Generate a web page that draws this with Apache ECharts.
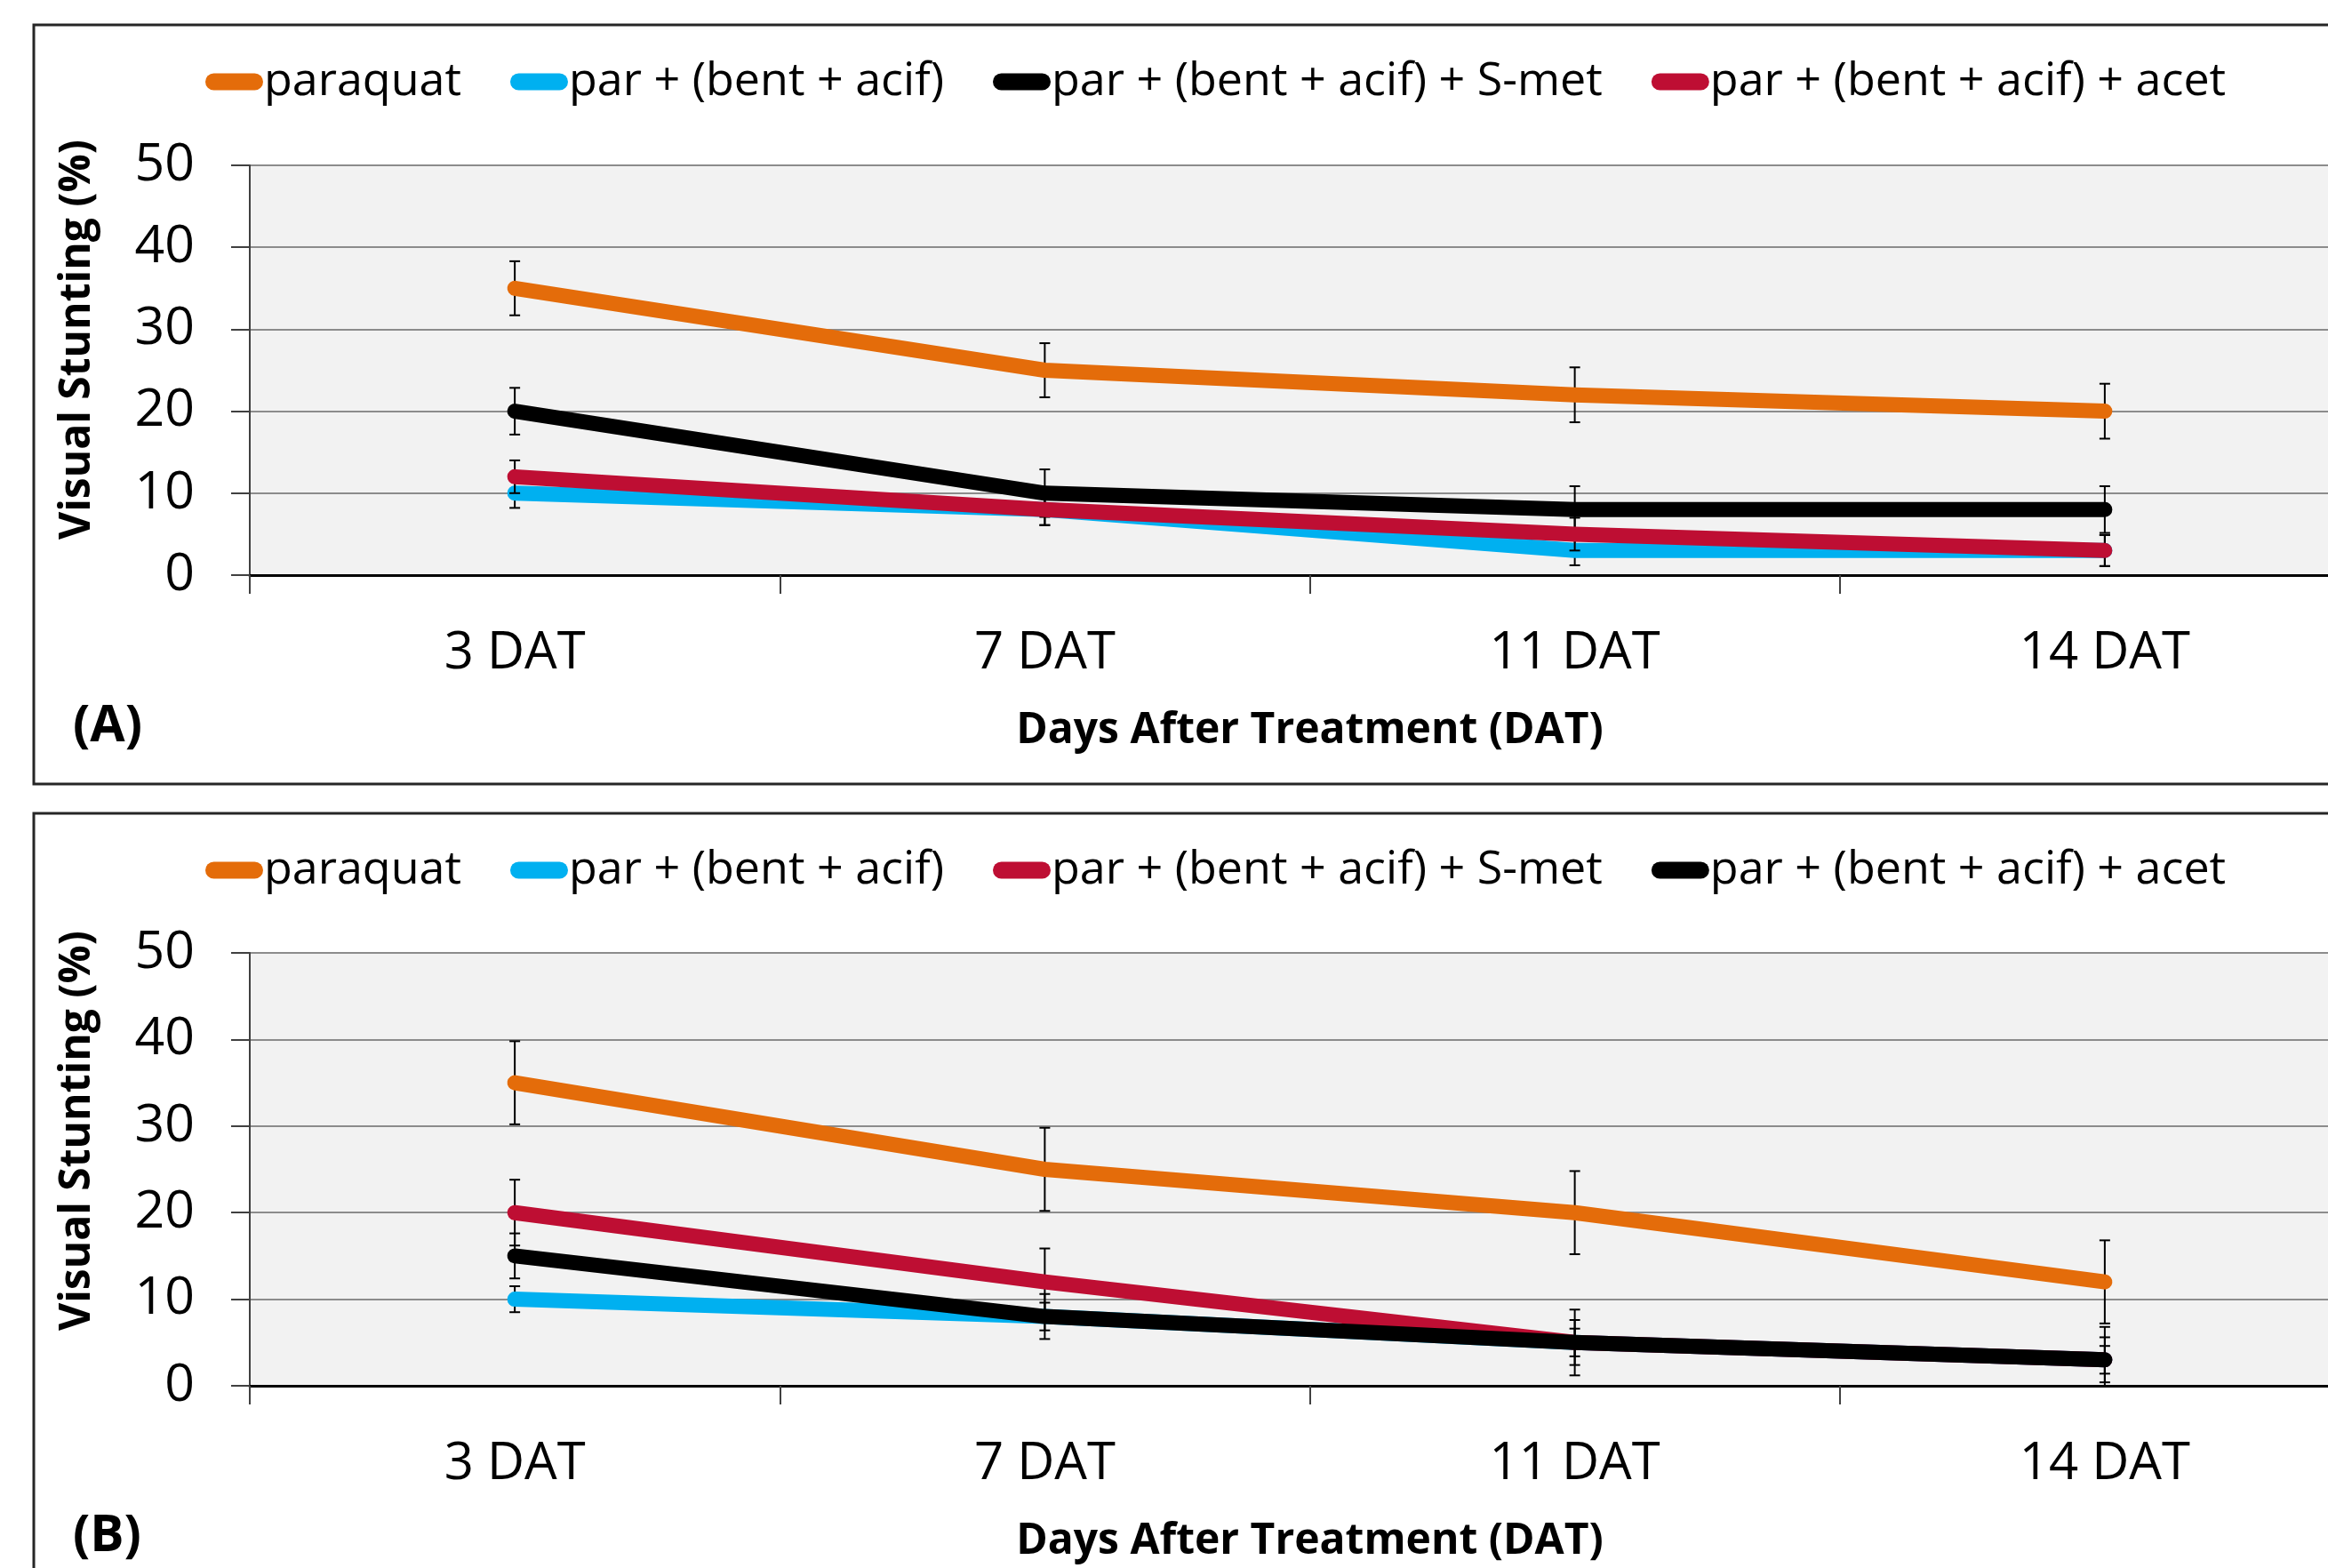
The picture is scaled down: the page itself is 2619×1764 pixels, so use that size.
<!DOCTYPE html>
<html><head><meta charset="utf-8">
<script src="https://cdn.jsdelivr.net/npm/echarts@6/dist/echarts.min.js"></script>
<style>html,body{margin:0;padding:0;background:#fff}#c{width:2619px;height:1764px}</style>
</head><body><div id="c"></div>
<script>
// ---------- data ----------
const categories = ['3 DAT', '7 DAT', '11 DAT', '14 DAT'];
const yMin = 0, yMax = 50, yStep = 10;

// Panel (A)
const namesA  = ['paraquat', 'par + (bent + acif)', 'par + (bent + acif) + S-met', 'par + (bent + acif) + acet'];
const colorsA = ['#E46C0A', '#00B0F0', '#000000', '#BE0E33'];
const paraquatA   = [35, 25, 22, 20];
const paraquatSeA = [3.3, 3.3, 3.35, 3.35];
const bentAcifA   = [10, 8, 3, 3];
const bentAcifSeA = [1.8, 1.9, 1.8, 1.9];
const sMetA       = [20, 10, 8, 8];
const sMetSeA     = [2.85, 2.9, 2.85, 2.85];
const acetA       = [12, 8, 5, 3];
const acetSeA     = [2.0, 1.9, 2.0, 1.9];

// Panel (B)
const namesB  = ['paraquat', 'par + (bent + acif)', 'par + (bent + acif) + S-met', 'par + (bent + acif) + acet'];
const colorsB = ['#E46C0A', '#00B0F0', '#BE0E33', '#000000'];
const paraquatB   = [35, 25, 20, 12];
const paraquatSeB = [4.8, 4.8, 4.8, 4.8];
const bentAcifB   = [10, 8, 5, 3];
const bentAcifSeB = [1.5, 1.6, 1.6, 1.6];
const sMetB       = [20, 12, 5, 3];
const sMetSeB     = [3.8, 3.86, 3.8, 3.8];
const acetB       = [15, 8, 5, 3];
const acetSeB     = [2.6, 2.6, 2.6, 2.6];

// ---------- chart ----------
const FONT = '"Open Sans", "Noto Sans", sans-serif';
const valsA = [paraquatA, bentAcifA, sMetA, acetA];
const sesA  = [paraquatSeA, bentAcifSeA, sMetSeA, acetSeA];
const valsB = [paraquatB, bentAcifB, sMetB, acetB];
const sesB  = [paraquatSeB, bentAcifSeB, sMetSeB, acetSeB];

function errRender(params, api) {
  const x = api.value(0), lo = api.value(1), hi = api.value(2);
  const pHi = api.coord([x, hi]);
  const pLo = api.coord([x, lo]);
  const hw = 6;
  const style = { stroke: '#000', lineWidth: 2, fill: null };
  return { type: 'group', children: [
    { type: 'line', shape: { x1: pHi[0], y1: pHi[1], x2: pLo[0], y2: pLo[1] }, style },
    { type: 'line', shape: { x1: pHi[0] - hw, y1: pHi[1], x2: pHi[0] + hw, y2: pHi[1] }, style },
    { type: 'line', shape: { x1: pLo[0] - hw, y1: pLo[1], x2: pLo[0] + hw, y2: pLo[1] }, style }
  ]};
}

const series = [];
function addPanel(idx, names, colors, vals, ses) {
  for (let i = 0; i < names.length; i++) {
    series.push({
      type: 'custom', xAxisIndex: idx, yAxisIndex: idx, z: 2 + 2 * i, silent: true,
      renderItem: errRender, encode: { x: 0, y: [1, 2] },
      data: vals[i].map((v, k) => [k, Math.max(yMin, v - ses[i][k]), v + ses[i][k]])
    });
    series.push({
      type: 'line', name: names[i], xAxisIndex: idx, yAxisIndex: idx, z: 3 + 2 * i,
      data: vals[i], showSymbol: false, symbol: 'none', color: colors[i],
      lineStyle: { color: colors[i], width: 17, cap: 'round', join: 'round' },
      emphasis: { disabled: true }
    });
  }
}
addPanel(0, namesA, colorsA, valsA, sesA);
addPanel(1, namesB, colorsB, valsB, sesB);

const legendIcon = 'path://M9.5,0 L55.5,0 A9.5,9.5 0 0 1 55.5,19 L9.5,19 A9.5,9.5 0 0 1 9.5,0 Z';
function mkLegend(top, names, colors) {
  return {
    left: 226, top: top, orient: 'horizontal', itemGap: 55, itemWidth: 65, itemHeight: 19,
    icon: legendIcon, selectedMode: false,
    textStyle: { fontFamily: FONT, fontSize: 52, color: '#000', padding: [0, 0, 0, -4] },
    data: names.map((n, i) => ({ name: n, itemStyle: { color: colors[i] }, icon: legendIcon }))
  };
}

function mkX(grid) {
  return {
    type: 'category', gridIndex: grid, data: categories, boundaryGap: true,
    axisLine: { show: true, lineStyle: { color: '#000', width: 3 } },
    axisTick: { show: true, alignWithLabel: false, length: 21, lineStyle: { color: '#404040', width: 2 } },
    axisLabel: { fontFamily: FONT, fontSize: 58, color: '#000', margin: 59 },
    splitLine: { show: false },
    name: 'Days After Treatment (DAT)', nameLocation: 'middle', nameGap: 151,
    nameTextStyle: { fontFamily: FONT, fontSize: 48, fontWeight: 'bold', color: '#000' }
  };
}
function mkY(grid) {
  return {
    type: 'value', gridIndex: grid, min: yMin, max: yMax, interval: yStep,
    axisLine: { show: true, lineStyle: { color: '#404040', width: 2 } },
    axisTick: { show: true, length: 21, lineStyle: { color: '#404040', width: 2 } },
    axisLabel: { fontFamily: FONT, fontSize: 59, color: '#000', margin: 62 },
    splitLine: { show: true, lineStyle: { color: '#8C8C8C', width: 2 } }
  };
}

const option = {
  animation: false,
  backgroundColor: '#ffffff',
  grid: [
    { left: 281, width: 2385, top: 186, height: 461, show: true, backgroundColor: '#F2F2F2', borderWidth: 0,
      containLabel: false, outerBoundsMode: 'none' },
    { left: 281, width: 2385, top: 1072, height: 487, show: true, backgroundColor: '#F2F2F2', borderWidth: 0,
      containLabel: false, outerBoundsMode: 'none' }
  ],
  legend: [ mkLegend(61, namesA, colorsA), mkLegend(948, namesB, colorsB) ],
  xAxis: [ mkX(0), mkX(1) ],
  yAxis: [ mkY(0), mkY(1) ],
  series: series,
  graphic: [
    { type: 'rect', z: 0, shape: { x: 38, y: 28, width: 2700, height: 854 },
      style: { fill: null, stroke: '#262626', lineWidth: 3 } },
    { type: 'rect', z: 0, shape: { x: 38, y: 915, width: 2700, height: 1000 },
      style: { fill: null, stroke: '#262626', lineWidth: 3 } },
    { type: 'text', x: 87, y: 382, rotation: Math.PI / 2,
      style: { text: 'Visual Stunting (%)', font: 'bold 48px ' + FONT, fill: '#000', textAlign: 'center', textVerticalAlign: 'middle' } },
    { type: 'text', x: 87, y: 1272, rotation: Math.PI / 2,
      style: { text: 'Visual Stunting (%)', font: 'bold 48px ' + FONT, fill: '#000', textAlign: 'center', textVerticalAlign: 'middle' } },
    { type: 'text', x: 82, y: 818,
      style: { text: '(A)', font: 'bold 57px ' + FONT, fill: '#000', textAlign: 'left', textVerticalAlign: 'middle' } },
    { type: 'text', x: 82, y: 1729,
      style: { text: '(B)', font: 'bold 57px ' + FONT, fill: '#000', textAlign: 'left', textVerticalAlign: 'middle' } }
  ]
};

const chart = echarts.init(document.getElementById('c'), null, { renderer: 'canvas', width: 2619, height: 1764 });
chart.setOption(option);
</script>
</body></html>
